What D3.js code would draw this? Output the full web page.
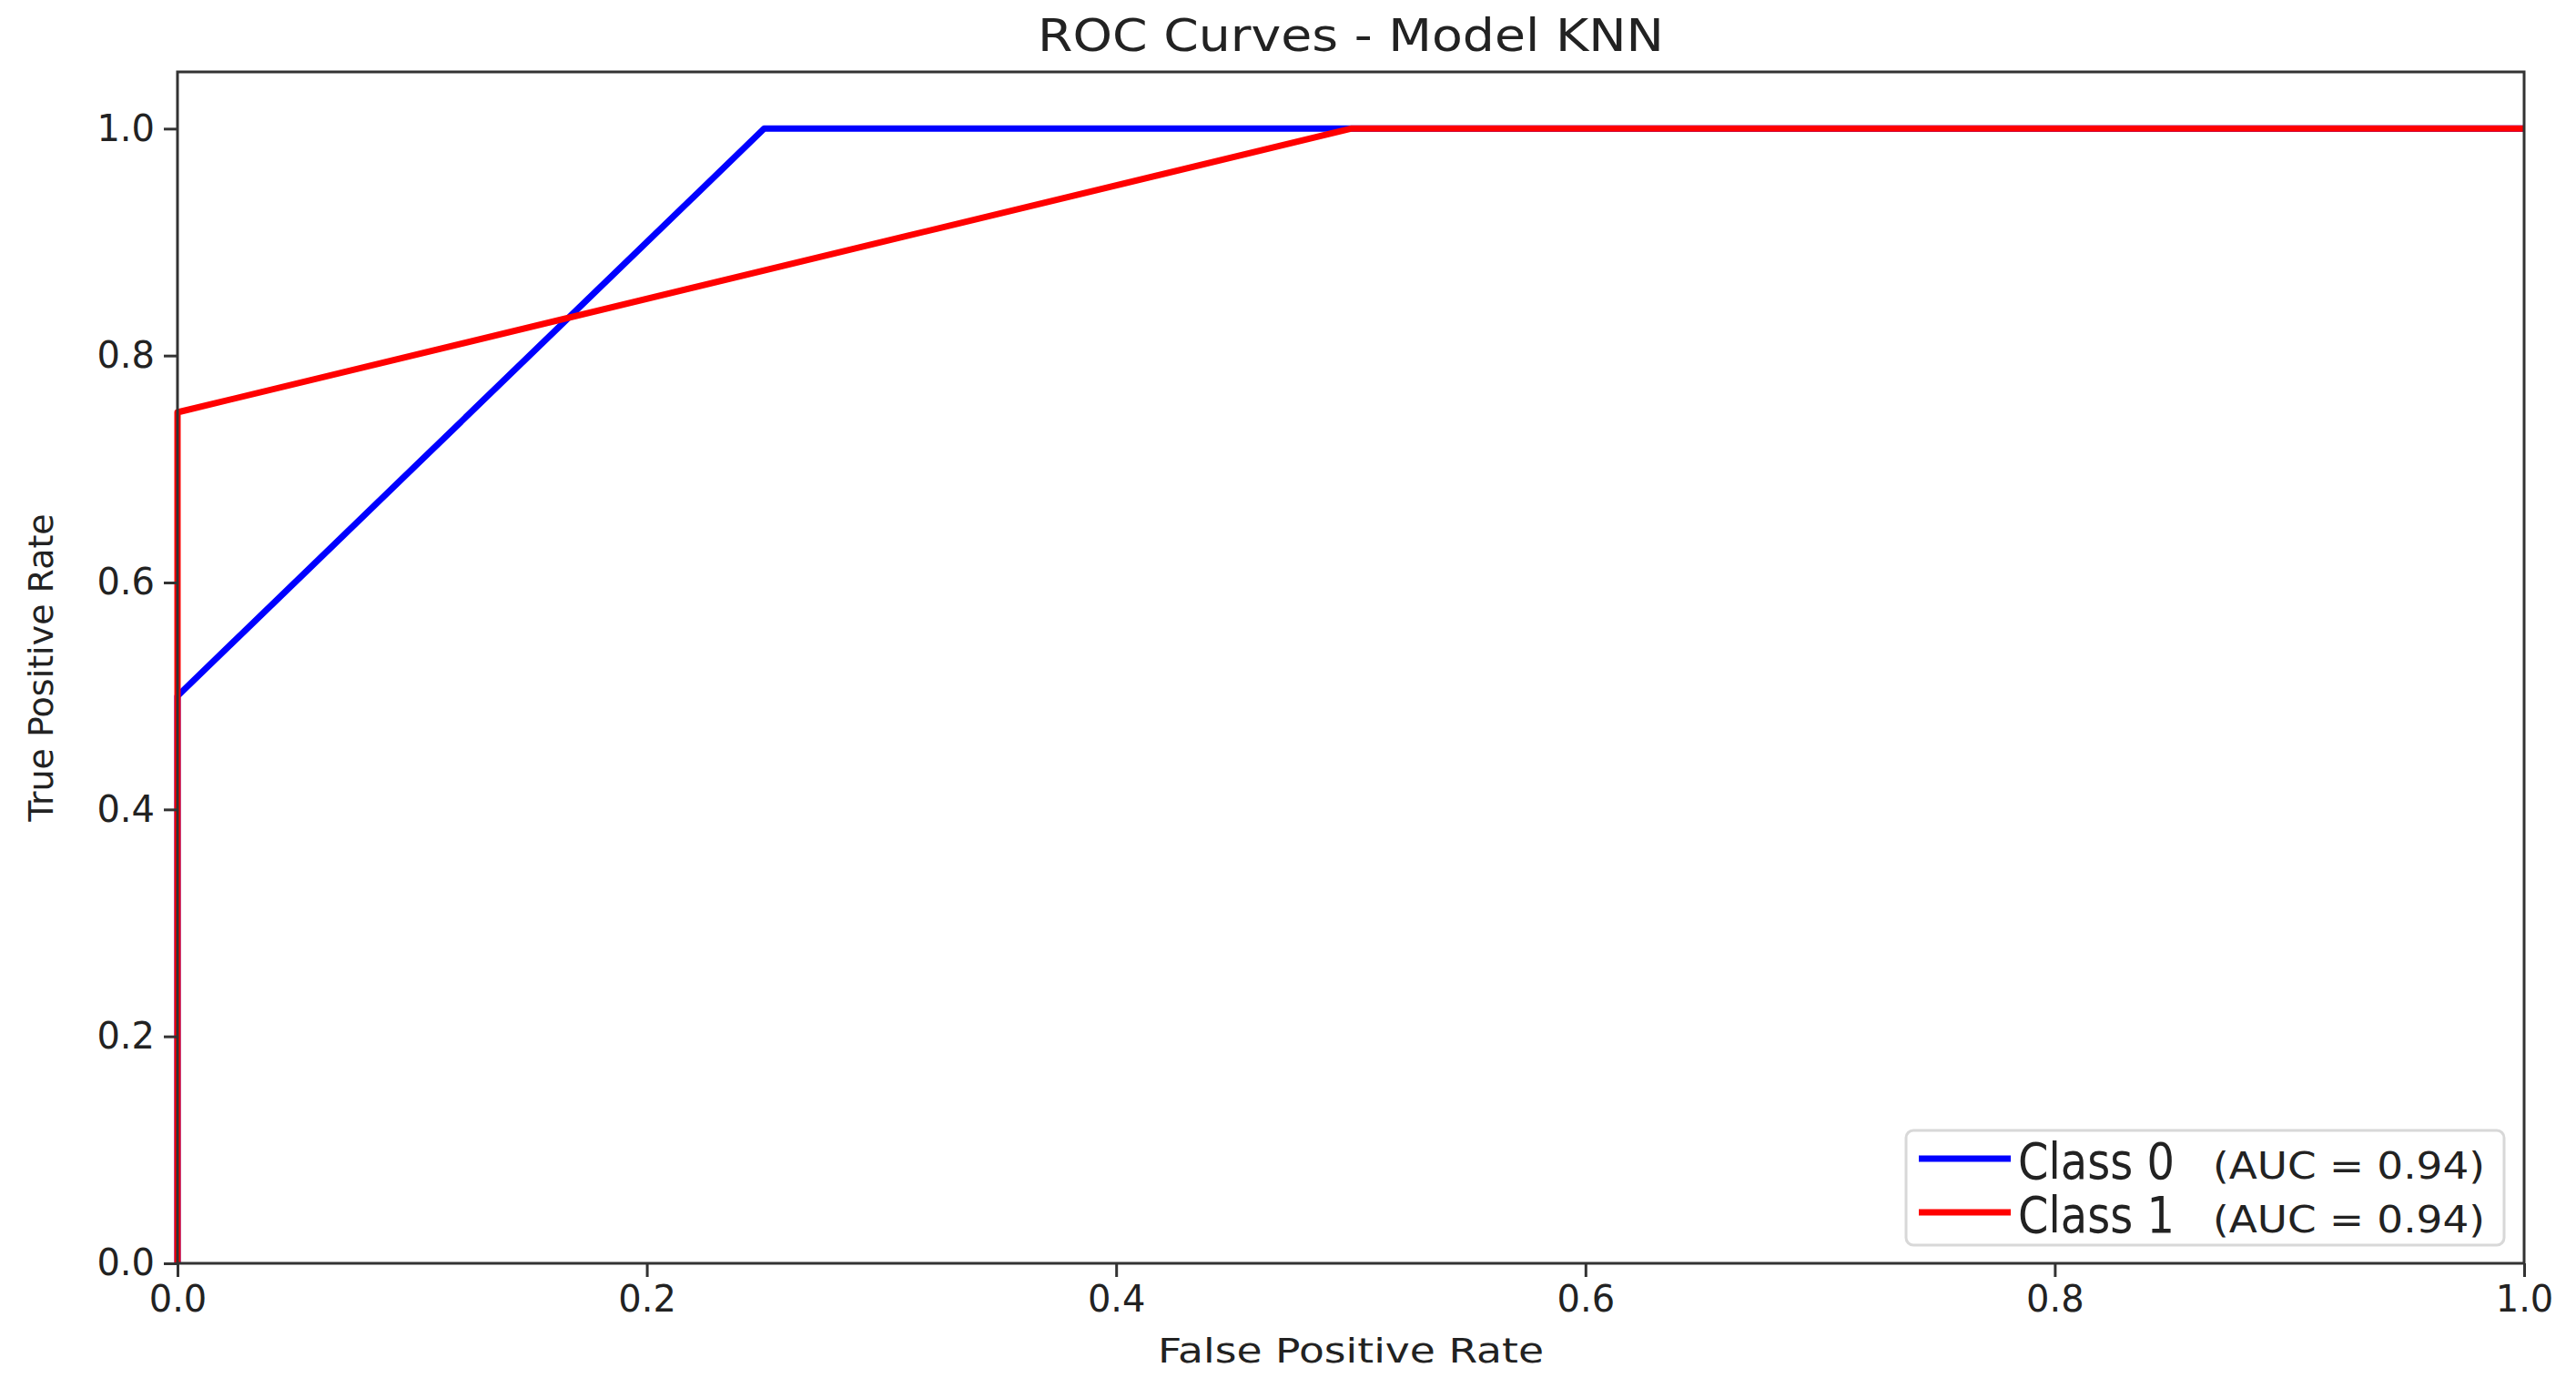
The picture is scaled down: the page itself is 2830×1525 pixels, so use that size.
<!DOCTYPE html>
<html>
<head>
<meta charset="utf-8">
<script src="https://cdn.jsdelivr.net/npm/d3@7"></script>
<style>
  body { margin: 0; background: #fff; }
  text { font-family: "DejaVu Sans", sans-serif; fill: #222; }
</style>
</head>
<body>
<div id="chart"></div>
<script>
// ROC points
const classNames = ["Class 0", "Class 1"];
const aucValues = [0.94, 0.94];
const fpr0 = [0, 0, 0.25, 1];
const tpr0 = [0, 0.5, 1, 1];
const fpr1 = [0, 0, 0.5, 1];
const tpr1 = [0, 0.75, 1, 1];
const lineColors = ["#0000ff", "#ff0000"];
const xTicks = [0, 0.2, 0.4, 0.6, 0.8, 1.0];
const yTicks = [0, 0.2, 0.4, 0.6, 0.8, 1.0];

const W = 2830, H = 1525;
const margin = {top: 79, right: 57, bottom: 137, left: 195};
const width = W - margin.left - margin.right, height = H - margin.top - margin.bottom;

const svg = d3.select("#chart").append("svg")
    .attr("width", W).attr("height", H)
    .style("background", "#fff");
const g = svg.append("g")
    .attr("transform", "translate(" + margin.left + "," + margin.top + ")");

const x = d3.scaleLinear().domain([0, 1]).range([0, width]);
const y = d3.scaleLinear().domain([0, 1.05]).range([height, 0]);

// curves: class 0 first, class 1 over it
const series = [
    fpr0.map((v, i) => ({x: v, y: tpr0[i]})),
    fpr1.map((v, i) => ({x: v, y: tpr1[i]}))
];
const line = d3.line().x(d => x(d.x)).y(d => y(d.y));
series.forEach(function(s, i) {
    g.append("path")
        .datum(s)
        .attr("d", line)
        .attr("fill", "none")
        .attr("stroke", lineColors[i])
        .attr("stroke-width", 7)
        .attr("stroke-linejoin", "round");
});

// frame
g.append("rect")
    .attr("width", width).attr("height", height)
    .attr("fill", "none").attr("stroke", "#333").attr("stroke-width", 3);

const xAxis = g.append("g")
    .attr("transform", "translate(0," + height + ")")
    .call(d3.axisBottom(x).tickValues(xTicks).tickFormat(d3.format(".1f")).tickSize(15).tickPadding(10));
const yAxis = g.append("g")
    .call(d3.axisLeft(y).tickValues(yTicks).tickFormat(d3.format(".1f")).tickSize(15).tickPadding(10));
[xAxis, yAxis].forEach(function(a) {
    a.select(".domain").remove();
    a.selectAll(".tick line").attr("stroke", "#333").attr("stroke-width", 3);
    a.selectAll(".tick text").attr("font-size", 40).attr("font-family", "DejaVu Sans").attr("fill", "#222");
});

// labels
svg.append("text")
    .attr("x", margin.left + width / 2).attr("y", 1497)
    .attr("text-anchor", "middle").attr("font-size", 38)
    .attr("textLength", 424).attr("lengthAdjust", "spacingAndGlyphs")
    .text("False Positive Rate");
svg.append("text")
    .attr("transform", "translate(58," + (margin.top + height / 2) + ") rotate(-90)")
    .attr("text-anchor", "middle").attr("font-size", 38)
    .text("True Positive Rate");
svg.append("text")
    .attr("x", margin.left + width / 2).attr("y", 56)
    .attr("text-anchor", "middle").attr("font-size", 50)
    .attr("font-family", "Noto Sans")
    .attr("textLength", 688).attr("lengthAdjust", "spacingAndGlyphs")
    .text("ROC Curves - Model KNN");

// legend
const leg = svg.append("g").attr("transform", "translate(2094,1242)");
leg.append("rect")
    .attr("width", 657).attr("height", 126).attr("rx", 8)
    .attr("fill", "#fff").attr("stroke", "#d8d8d8").attr("stroke-width", 3);
classNames.forEach(function(name, i) {
    const row = leg.append("g").attr("transform", "translate(0," + (31 + i * 59) + ")");
    row.append("line")
        .attr("x1", 14).attr("x2", 115)
        .attr("stroke", lineColors[i]).attr("stroke-width", 7);
    row.append("text")
        .attr("x", 123).attr("y", 22)
        .attr("font-family", "Noto Sans").attr("font-size", 56)
        .attr("textLength", 172).attr("lengthAdjust", "spacingAndGlyphs")
        .text(name);
    row.append("text")
        .attr("x", 337).attr("y", 22)
        .attr("font-size", 40)
        .attr("textLength", 299).attr("lengthAdjust", "spacingAndGlyphs")
        .text("(AUC = " + aucValues[i].toFixed(2) + ")");
});
</script>
</body>
</html>
